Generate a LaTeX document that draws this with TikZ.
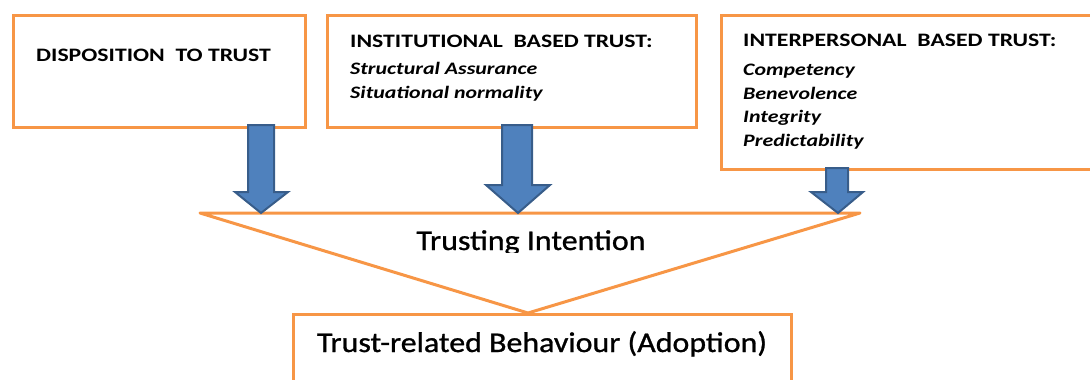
\documentclass[tikz,border=0pt]{standalone}
\usepackage{fontspec}
\setmainfont{Carlito}[FakeStretch=1.25]
\newfontfamily\bigfont{Carlito}[FakeStretch=1.12,FakeBold=1]
\usetikzlibrary{positioning}
\definecolor{boxorange}{HTML}{F79646}
\definecolor{arrowblue}{HTML}{4F81BD}
\definecolor{arrowedge}{HTML}{385D8A}

\begin{document}
\begin{tikzpicture}[x=1pt,y=-1pt,
  frame/.style={draw=boxorange,line width=3pt,anchor=north west,inner sep=0pt},
  title/.style={anchor=base west,inner sep=0pt,font=\bfseries\fontsize{19}{22}\selectfont},
  item/.style={anchor=base west,inner sep=0pt,font=\bfseries\itshape\fontsize{17.5}{21}\selectfont},
  big/.style={anchor=base,inner sep=0pt,font=\bigfont\fontsize{28.5}{32}\selectfont},
  blockarrow/.style={fill=arrowblue,draw=arrowedge,line width=2pt,line join=miter}]
\useasboundingbox (0,0) rectangle (1090,380);
\clip (0,0) rectangle (1090,380);

\node[frame,minimum width=292pt,minimum height=112pt] (disp) at (12,14) {};
\node[frame,minimum width=369pt,minimum height=112pt] (inst) at (326,14) {};
\node[frame,minimum width=375pt,minimum height=154pt] (inter) at (720,14) {};
\node[frame,minimum width=498pt,minimum height=90pt] (behav) at (292,313) {};

\node[title] (t1) at (36,61) {DISPOSITION\ \ TO TRUST};
\node[title] (t2) at (350,47) {INSTITUTIONAL\ \ BASED TRUST:};
\node[item] (s1) at (350,74) {Structural Assurance};
\node[item] (s2) at (350,98) {Situational normality};
\node[title] (t3) at (743,46) {INTERPERSONAL\ \ BASED TRUST:};
\node[item] (p1) at (743,75) {Competency};
\node[item] (p2) at (743,99) {Benevolence};
\node[item] (p3) at (743,122) {Integrity};
\node[item] (p4) at (743,146) {Predictability};

% funnel
\coordinate (fl) at (200,213);
\coordinate (fr) at (860,213);
\coordinate (fa) at (528,313);
\draw[boxorange,line width=3pt,line join=round] (fl) -- (fr) -- (fa) -- cycle;

\begin{scope}
\clip (380,215) rectangle (680,252);
\node[big] (intent) at (531,250) {Trusting Intention};
\end{scope}
\node[big] (adopt) at (542,352) {Trust-related Behaviour (Adoption)};

% block arrows
\draw[blockarrow] (248,125) -- (274,125) -- (274,192) -- (288,192) -- (261,213)
  -- (235,192) -- (248,192) -- cycle;
\draw[blockarrow] (502,125) -- (532,125) -- (532,185) -- (550,185) -- (518,213)
  -- (486,185) -- (502,185) -- cycle;
\draw[blockarrow] (826,168) -- (848,168) -- (848,192) -- (863,192) -- (838,213)
  -- (811,192) -- (826,192) -- cycle;
\end{tikzpicture}
\end{document}
